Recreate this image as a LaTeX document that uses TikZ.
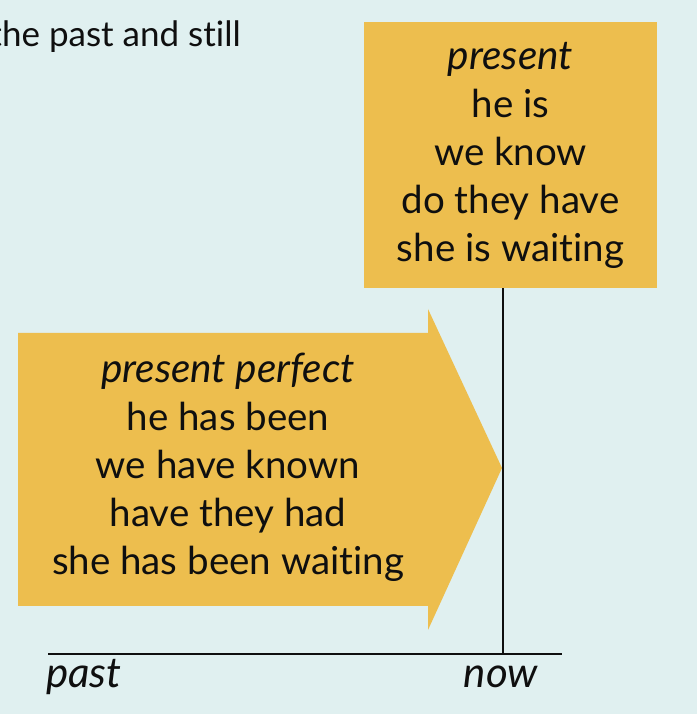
\documentclass[tikz,border=0pt]{standalone}
\usepackage{fontspec}
\setmainfont{Lato}[Ligatures=CommonOff]
\usetikzlibrary{calc, backgrounds}
\definecolor{pagebg}{RGB}{224,240,240}
\definecolor{tenseyellow}{RGB}{237,190,78}
\definecolor{inkcol}{RGB}{15,15,15}
\newcommand{\tensename}[1]{{\fontsize{40.5}{48}\selectfont\itshape #1}}

\begin{document}
\begin{tikzpicture}[
    x=1pt, y=1pt,
    background rectangle/.style={fill=pagebg},
    show background rectangle,
    tensebox/.style={fill=tenseyellow, text=inkcol, align=center,
                     font=\fontsize{38.5}{48}\selectfont, inner sep=0pt},
    axisline/.style={draw=inkcol, line width=2pt},
    timelabel/.style={text=inkcol, font=\fontsize{42}{48}\selectfont\itshape,
                      inner sep=0pt},
]

\path[use as bounding box] (0,0) rectangle (696,714);

% ════════════════════════════════════════════════════════
% 0. RUNNING TEXT (cut at the left edge)
% ════════════════════════════════════════════════════════
\node[text=inkcol, font=\fontsize{35}{43}\selectfont, inner sep=0pt,
      anchor=base east] (runtext) at (241, 667) {the past and still};

% ════════════════════════════════════════════════════════
% 1. PRESENT BOX (TOP RIGHT)
% ════════════════════════════════════════════════════════
\node[tensebox, minimum width=293, minimum height=266] (present)
    at (510.5, 559)
    {\tensename{present}\\he is\\we know\\do they have\\she is waiting};

% ════════════════════════════════════════════════════════
% 2. PRESENT PERFECT ARROW (LEFT)
% ════════════════════════════════════════════════════════
\coordinate (tip) at (502, 246);
\fill[tenseyellow]
    (18, 381) -- (428, 381) -- (428, 405) -- (tip)
    -- (428, 84) -- (428, 108) -- (18, 108) -- cycle;
\node[tensebox, fill=none] (perfect) at (228, 247)
    {\tensename{present perfect}\\he has been\\we have known\\have they had\\she has been waiting};

% ════════════════════════════════════════════════════════
% 3. TIME AXIS
% ════════════════════════════════════════════════════════
\coordinate (axisL) at (48, 60);
\coordinate (axisR) at (562, 60);
\coordinate (nowpt) at (503, 60);

\draw[axisline] (axisL) -- (axisR);
\draw[axisline, line width=1.6pt] (present.south -| nowpt) -- (nowpt);

\node[timelabel, anchor=base west] (pastlbl) at (46, 26) {past};
\node[timelabel, anchor=base] (nowlbl) at (501, 26) {now};

\end{tikzpicture}
\end{document}
